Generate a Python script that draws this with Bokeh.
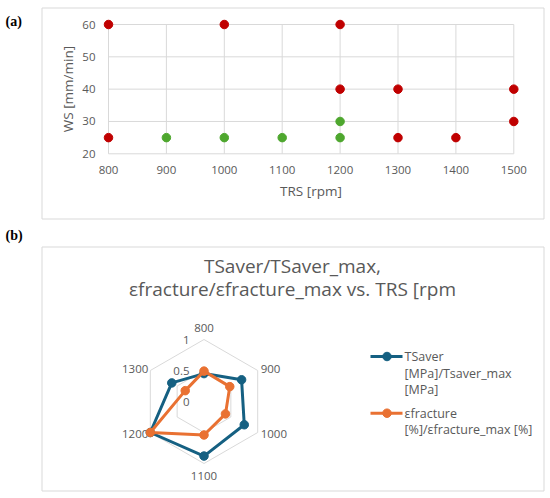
import numpy as np
from bokeh.plotting import figure
from bokeh.models import Range1d, FixedTicker, LinearAxis
from bokeh.embed import file_html
from bokeh.resources import INLINE
from bokeh.core.properties import value

# ---------------- data: panel (a) ----------------
red_trs = [800, 1000, 1200, 1200, 1300, 1500, 1500, 800, 1300, 1400]
red_ws = [60, 60, 60, 40, 40, 40, 30, 25, 25, 25]
green_trs = [900, 1000, 1100, 1200, 1200]
green_ws = [25, 25, 25, 25, 30]
x_ticks = [800, 900, 1000, 1100, 1200, 1300, 1400, 1500]
y_ticks = [20, 30, 40, 50, 60]

# ---------------- data: panel (b) ----------------
trs_categories = ["800", "900", "1000", "1100", "1200", "1300"]
tsaver_ratio = [0.45, 0.70, 0.75, 0.88, 1.0, 0.60]
efracture_ratio = [0.49, 0.48, 0.40, 0.54, 1.0, 0.35]
ring_levels = [0.5, 1.0]
ring_ticks = [0.0, 0.5, 1.0]
ring_tick_labels = ["0", "0.5", "1"]
title_lines = ["TSaver/TSaver_max,", "\u03b5fracture/\u03b5fracture_max vs. TRS [rpm"]
legend_blue = ["TSaver", "[MPa]/Tsaver_max", "[MPa]"]
legend_orange = ["\u03b5fracture", "[%]/\u03b5fracture_max [%]"]

FONT = "Open Sans"
GREY = "#595959"
GRID = "#d9d9d9"
RED = "#C00000"
GREEN = "#4EA72E"
BLUE = "#156082"
ORANGE = "#E97132"

W, H = 548, 496

# pixel anchors of panel (a) plot area (canvas coords, y downwards)
PX_L, PX_R = 108.0, 513.3      # x of TRS 800 / 1500
PY_T, PY_B = 24.0, 153.3       # y of WS 60 / 20
kx = (PX_R - PX_L) / (max(x_ticks) - min(x_ticks))
ky = (PY_B - PY_T) / (max(y_ticks) - min(y_ticks))
trs_start = min(x_ticks) - PX_L / kx
trs_end = trs_start + W / kx
ws_end = max(y_ticks) + PY_T / ky
ws_start = ws_end - H / ky

p = figure(width=W, height=H, output_backend="svg", toolbar_location=None,
           x_range=Range1d(0, W), y_range=Range1d(H, 0), min_border=0,
           x_axis_location=None, y_axis_location=None)
p.grid.visible = False
p.outline_line_color = None
p.extra_x_ranges = {"trs": Range1d(trs_start, trs_end)}
p.extra_y_ranges = {"ws": Range1d(ws_start, ws_end)}

# ---------------- panel (a) ----------------
p.quad(left=41.5, right=543.5, top=7.5, bottom=218.5, fill_color=None,
       line_color=GRID, line_width=1)
p.text(x=[5], y=[20.5], text=["(a)"], text_font=value("Liberation Serif"),
       text_font_style="bold", text_font_size="14px", text_baseline="middle",
       text_color="black")

xa = LinearAxis(x_range_name="trs", y_range_name="ws", fixed_location=min(y_ticks),
                ticker=FixedTicker(ticks=x_ticks), axis_label="TRS [rpm]",
                bounds=(min(x_ticks), max(x_ticks)))
ya = LinearAxis(x_range_name="trs", y_range_name="ws", fixed_location=min(x_ticks),
                ticker=FixedTicker(ticks=y_ticks), axis_label="WS [mm/min]",
                bounds=(min(y_ticks), max(y_ticks)))
for ax in (xa, ya):
    ax.axis_line_color = None
    ax.major_tick_line_color = None
    ax.minor_tick_line_color = None
    ax.major_tick_out = 0
    ax.major_tick_in = 0
    ax.minor_tick_out = 0
    ax.minor_tick_in = 0
    ax.major_label_text_font = FONT
    ax.major_label_text_font_size = "11.5px"
    ax.major_label_text_color = GREY
    ax.axis_label_text_font = FONT
    ax.axis_label_text_font_size = "13.5px"
    ax.axis_label_text_font_style = "normal"
    ax.axis_label_text_color = GREY
xa.major_label_standoff = 12
xa.axis_label_standoff = 5
ya.major_label_standoff = 13
ya.axis_label_standoff = 2
p.add_layout(xa, "below")
p.add_layout(ya, "left")

nx, ny = len(x_ticks), len(y_ticks)
p.segment(x0=x_ticks, y0=[min(y_ticks)] * nx, x1=x_ticks, y1=[max(y_ticks)] * nx,
          line_color=GRID, line_width=1, x_range_name="trs", y_range_name="ws")
p.segment(x0=[min(x_ticks)] * ny, y0=y_ticks, x1=[max(x_ticks)] * ny, y1=y_ticks,
          line_color=GRID, line_width=1, x_range_name="trs", y_range_name="ws")
p.scatter(red_trs, red_ws, size=8.5, color=RED, line_color=RED,
          x_range_name="trs", y_range_name="ws")
p.scatter(green_trs, green_ws, size=8.5, color=GREEN, line_color=GREEN,
          x_range_name="trs", y_range_name="ws")

# ---------------- panel (b) ----------------
p.quad(left=41.5, right=543.5, top=246.5, bottom=490.5, fill_color=None,
       line_color=GRID, line_width=1)
p.text(x=[5], y=[235], text=["(b)"], text_font=value("Liberation Serif"),
       text_font_style="bold", text_font_size="14px", text_baseline="middle",
       text_color="black")

p.text(x=[292, 292], y=[265, 288], text=title_lines, text_align="center",
       text_baseline="middle", text_font=value(FONT), text_font_size="19px",
       text_color=GREY)

cx, cy, R = 203.5, 401.0, 62.0
n = len(trs_categories)
ang = np.arange(n) * 2 * np.pi / n
sin_a, cos_a = np.sin(ang), np.cos(ang)

for lev in ring_levels:
    rx = list(cx + R * lev * sin_a) + [cx + R * lev * sin_a[0]]
    ry = list(cy - R * lev * cos_a) + [cy - R * lev * cos_a[0]]
    p.line(rx, ry, line_color=GRID, line_width=1)

p.text(x=[cx - 14.5] * len(ring_ticks), y=[cy - R * t for t in ring_ticks],
       text=ring_tick_labels, text_align="right", text_baseline="middle",
       text_font=value(FONT), text_font_size="11.5px", text_color=GREY)

lx, ly, la = [], [], []
for s, c in zip(sin_a, cos_a):
    if abs(s) < 0.1:
        lx.append(cx)
        ly.append(cy - (R + 12) * c)
        la.append("center")
    else:
        lx.append(cx + R * s + (3 if s > 0 else -2))
        ly.append(cy - R * c + (-2 if c > 0 else 1))
        la.append("left" if s > 0 else "right")
p.text(x=lx, y=ly, text=trs_categories, text_align=la, text_baseline="middle",
       text_font=value(FONT), text_font_size="11.5px", text_color=GREY)

for vals, col in ((tsaver_ratio, BLUE), (efracture_ratio, ORANGE)):
    v = np.array(vals)
    px = cx + R * v * sin_a
    py = cy - R * v * cos_a
    p.line(list(px) + [px[0]], list(py) + [py[0]], line_color=col, line_width=3,
           line_join="round")
    p.scatter(px, py, size=8.5, color=col, line_color=col)

# legend
for lines, col, y0 in ((legend_blue, BLUE, 356.0), (legend_orange, ORANGE, 412.7)):
    p.line([370, 402], [y0, y0], line_color=col, line_width=3)
    p.scatter([386.5], [y0], size=8.5, color=col, line_color=col)
    p.text(x=[404] * len(lines), y=[y0 + 16.6 * i for i in range(len(lines))],
           text=lines, text_align="left", text_baseline="middle",
           text_font=value(FONT), text_font_size="12.5px", text_color=GREY)

open("out.html", "w").write(file_html(p, INLINE))
